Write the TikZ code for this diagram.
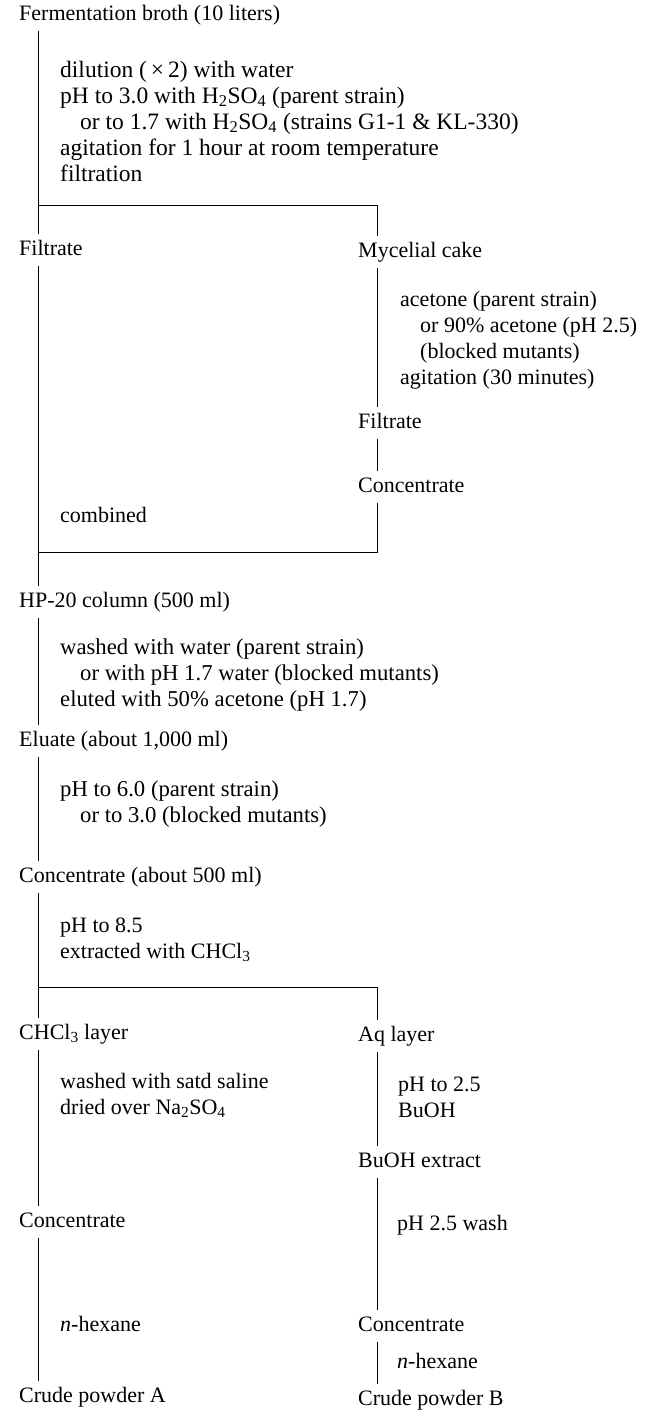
\documentclass[tikz,border=0pt]{standalone}
\usepackage{fontspec}
\setmainfont{Liberation Serif}
\tikzset{
    stage/.style={anchor=west, inner xsep=0pt, inner ysep=5pt, text height=16pt, text depth=5pt, font=\fontsize{22}{26}\selectfont},
    note/.style={anchor=west, inner sep=0pt, align=left, font=\fontsize{22}{26}\selectfont},
    wide/.style={font=\fontsize{23.5}{26}\selectfont},
    flow/.style={line width=0.9pt}
}
\newcommand{\ind}{\hspace*{20pt}}

\begin{document}
\begin{tikzpicture}[x=1pt, y=-1pt]
    % Page frame
    \useasboundingbox (0,0) rectangle (653,1412);

    % Stages, left column
    \node[stage] (broth) at (19,15) {Fermentation broth (10 liters)};
    \node[stage] (filtA) at (19,250) {Filtrate};
    \node[stage] (hp) at (19,602) {HP-20 column (500 ml)};
    \node[stage] (eluate) at (19,741) {Eluate (about 1,000 ml)};
    \node[stage] (conc500) at (19,877) {Concentrate (about 500 ml)};
    \node[stage] (chcl) at (19,1034) {CHCl\textsubscript{3} layer};
    \node[stage] (concA) at (19,1222) {Concentrate};
    \node[stage] (crudeA) at (19,1397) {Crude powder A};

    % Stages, right column
    \node[stage] (myc) at (358,252) {Mycelial cake};
    \node[stage] (filtR) at (358,423) {Filtrate};
    \node[stage] (concR) at (358,487) {Concentrate};
    \node[stage] (aq) at (358,1036) {Aq layer};
    \node[stage] (buoh) at (358,1162) {BuOH extract};
    \node[stage] (concB) at (358,1326) {Concentrate};
    \node[stage] (crudeB) at (358,1400) {Crude powder B};

    % Treatments
    \node[note, wide] (t1) at (60,121) {dilution (\,×\,2) with water\\
        pH to 3.0 with H\textsubscript{2}SO\textsubscript{4} (parent strain)\\
        \ind or to 1.7 with H\textsubscript{2}SO\textsubscript{4} (strains G1-1 \& KL-330)\\
        agitation for 1 hour at room temperature\\
        filtration};
    \node[note] (t2) at (400,340) {acetone (parent strain)\\
        \ind or 90\% acetone (pH 2.5)\\
        \ind (blocked mutants)\\
        agitation (30 minutes)};
    \node[note] (t3) at (60,515) {combined};
    \node[note, font=\fontsize{22.7}{26}\selectfont] (t4) at (60,675) {washed with water (parent strain)\\
        \ind or with pH 1.7 water (blocked mutants)\\
        eluted with 50\% acetone (pH 1.7)};
    \node[note, font=\fontsize{22.7}{26}\selectfont] (t5) at (60,804) {pH to 6.0 (parent strain)\\
        \ind or to 3.0 (blocked mutants)};
    \node[note] (t6) at (60,940) {pH to 8.5\\
        extracted with CHCl\textsubscript{3}};
    \node[note] (t7) at (60,1095) {washed with satd saline\\
        dried over Na\textsubscript{2}SO\textsubscript{4}};
    \node[note] (t8) at (398,1097) {pH to 2.5\\
        BuOH};
    \node[note] (t9) at (397,1225) {pH 2.5 wash};
    \node[note] (t10) at (60,1324) {\textit{n}-hexane};
    \node[note] (t11) at (397,1361) {\textit{n}-hexane};

    % Branch points on the trunk
    \coordinate (split1) at (38,205);
    \coordinate (join1) at (38,552);
    \coordinate (split2) at (38,987);

    % Straight runs
    \foreach \a/\b in {broth/filtA, filtA/hp, hp/eluate, eluate/conc500, conc500/chcl,
        chcl/concA, concA/crudeA, myc/filtR, filtR/concR, aq/buoh, buoh/concB, concB/crudeB} {
        \draw[flow] ([xshift=19pt]\a.south west) -- ([xshift=19pt]\b.north west);
    }

    % Splits and join
    \draw[flow] (split1) -| ([xshift=19pt]myc.north west);
    \draw[flow] ([xshift=19pt]concR.south west) |- (join1);
    \draw[flow] (split2) -| ([xshift=19pt]aq.north west);
\end{tikzpicture}
\end{document}
